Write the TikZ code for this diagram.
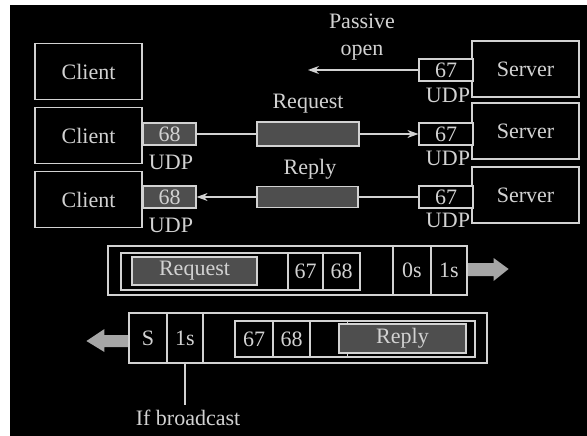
\documentclass[tikz,border=0pt]{standalone}
\usepackage{fontspec}
\setmainfont{Liberation Serif}
\usetikzlibrary{arrows.meta,calc}
\definecolor{fg}{HTML}{D2D2D2}
\definecolor{msg}{HTML}{4E4E4E}
\definecolor{fat}{HTML}{A6A6A6}
\begin{document}
\begin{tikzpicture}[x=1pt,y=-1pt,
  font=\fontsize{22}{24}\selectfont,
  box/.style={draw=fg, line width=1.2pt, text=fg, inner sep=0pt, rectangle, fill=black},
  hostbox/.style={box, minimum width=107pt, minimum height=56pt},
  portbox/.style={box, minimum height=22pt},
  msgbox/.style={box, fill=msg},
  cell/.style={box},
  lbl/.style={text=fg, inner sep=0pt},
  conn/.style={draw=fg, line width=1.2pt},
  arr/.style={conn, -{Stealth[length=11pt,width=8pt]}},
  fatarrow/.style={fill=fat, draw=none}
]
\useasboundingbox (0,0) rectangle (587,436);
\fill[white] (0,0) rectangle (587,436);
\fill[black] (10,5) rectangle (587,436);

% hosts
\node[hostbox] (c1) at (88.5,71.5) {Client};
\node[hostbox] (c2) at (88.5,135.5) {Client};
\node[hostbox] (c3) at (88.5,199.5) {Client};
\node[hostbox] (s1) at (525.5,69) {Server};
\node[hostbox] (s2) at (525.5,131) {Server};
\node[hostbox] (s3) at (525.5,195) {Server};

% ports
\node[portbox, msgbox, minimum width=53pt] (p68b) at (169.5,134) {68};
\node[portbox, msgbox, minimum width=53pt] (p68c) at (169.5,197) {68};
\node[portbox, minimum width=54pt] (p67a) at (446,70) {67};
\node[portbox, minimum width=54pt] (p67b) at (446,134) {67};
\node[portbox, minimum width=54pt] (p67c) at (446,197) {67};
\node[lbl] (u68b) at (171,162) {UDP};
\node[lbl] (u68c) at (171,225) {UDP};
\node[lbl] (u67a) at (448,95) {UDP};
\node[lbl] (u67b) at (448,158) {UDP};
\node[lbl] (u67c) at (448,220) {UDP};

% passive open
\node[lbl, align=center, font=\fontsize{22}{27}\selectfont] (po) at (362,37) {Passive\\open};
\coordinate (poend) at (308,70);
\draw[arr] (p67a.west) -- (poend);

% request
\node[msgbox, minimum width=102pt, minimum height=24pt] (req) at (308,134) {};
\node[lbl] (reqlbl) at (308,104) {Request};
\draw[conn] (p68b.east) -- (req.west);
\draw[arr] (req.east) -- (p67b.west);

% reply
\node[msgbox, minimum width=101pt, minimum height=21pt] (rep) at (307.5,197) {};
\node[lbl] (replbl) at (310,169) {Reply};
\draw[conn] (p67c.west) -- (rep.east);
\draw[arr] (rep.west) -- (p68c.east);

% request packet
\node[box, minimum width=359pt, minimum height=49pt] (pa) at (287.5,270.5) {};
\node[box, minimum width=239pt, minimum height=37pt] (pai) at (240.5,271.5) {};
\node[msgbox, minimum width=125pt, minimum height=28pt] (pareq) at (194.5,271) {Request};
\node[cell, minimum width=35pt, minimum height=37pt] (pa67) at (305.5,271.5) {67};
\node[cell, minimum width=37pt, minimum height=37pt] (pa68) at (341.5,271.5) {68};
\node[cell, minimum width=38pt, minimum height=49pt] (pa0s) at (412,270.5) {0s};
\node[cell, minimum width=36pt, minimum height=49pt] (pa1s) at (449,270.5) {1s};
\fill[fatarrow] ($(pa1s.east)+(0.6,-7.5)$) -- ++(25.4,0) -- ++(0,-5) -- ($(pa1s.east)+(41,-1.5)$)
  -- ($(pa1s.east)+(26,10.5)$) -- ++(0,-5) -- ($(pa1s.east)+(0.6,5.5)$) -- cycle;

% reply packet
\node[box, minimum width=358pt, minimum height=50pt] (pb) at (308,338) {};
\node[cell, minimum width=38pt, minimum height=50pt] (pbs) at (148,338) {S};
\node[cell, minimum width=36pt, minimum height=50pt] (pb1s) at (185,338) {1s};
\node[box, minimum width=240pt, minimum height=36pt] (pbi) at (355,339) {};
\node[cell, minimum width=38pt, minimum height=36pt] (pb67) at (254,339) {67};
\node[cell, minimum width=37pt, minimum height=36pt] (pb68) at (291.5,339) {68};
\draw[conn] ($(pb68.north east)+(37,0)$) -- ($(pb68.south east)+(37,0)$);
\node[msgbox, minimum width=127pt, minimum height=29pt] (pbrep) at (402.5,338.5) {Reply};
\fill[fatarrow] ($(pbs.west)+(-0.6,-3)$) -- ++(-23.4,0) -- ++(0,-6) -- ($(pbs.west)+(-42,3)$)
  -- ($(pbs.west)+(-24,14)$) -- ++(0,-5) -- ($(pbs.west)+(-0.6,9)$) -- cycle;

\coordinate (ib) at (185,405);
\draw[conn] (pb1s.south) -- (ib);
\node[lbl] (ifb) at (188,418) {If broadcast};
\end{tikzpicture}
\end{document}
